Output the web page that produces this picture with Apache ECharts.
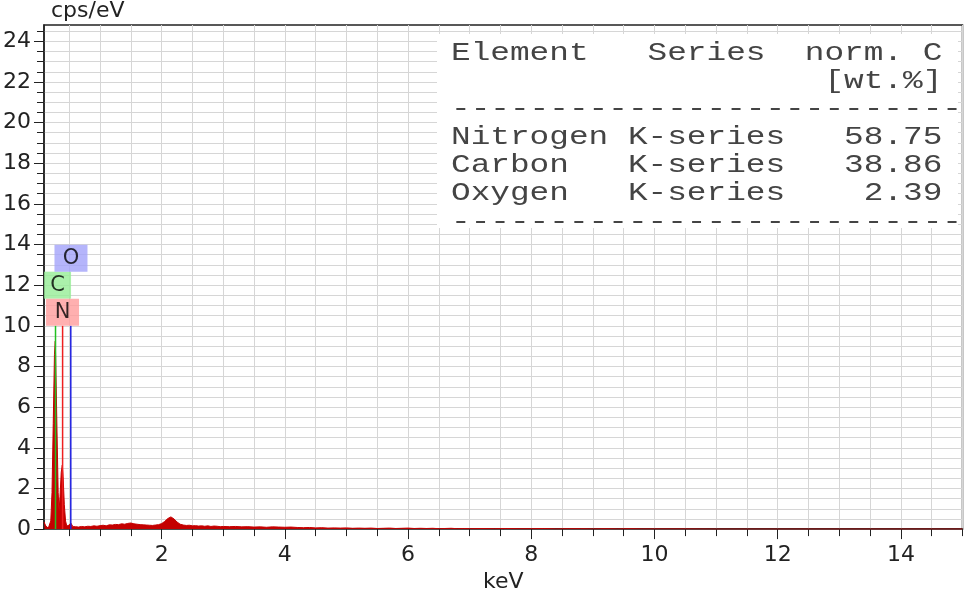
<!DOCTYPE html>
<html>
<head>
<meta charset="utf-8">
<title>EDS spectrum</title>
<script src="https://cdn.jsdelivr.net/npm/echarts@6/dist/echarts.min.js"></script>
<style>
  html, body { margin: 0; padding: 0; background: #fff; }
  #chart { width: 968px; height: 598px; }
</style>
</head>
<body>
<div id="chart"></div>
<script>
// spectrum: energy (keV) and intensity (cps/eV)
const energy = [
  0.09, 0.10, 0.12, 0.14, 0.16, 0.18, 0.20, 0.22, 0.24, 0.26, 0.273, 0.28, 0.30, 0.32, 0.335,
  0.35, 0.37, 0.387, 0.40, 0.42, 0.44, 0.46, 0.48, 0.50, 0.525, 0.54, 0.56, 0.58,
  0.60, 0.65, 0.70, 0.75, 0.80, 0.85, 0.90, 0.95, 1.00, 1.05, 1.10, 1.15, 1.20, 1.25,
  1.30, 1.35, 1.40, 1.45, 1.50, 1.55, 1.60, 1.65, 1.70, 1.75, 1.80, 1.85, 1.90, 1.95,
  2.00, 2.05, 2.10, 2.15, 2.20, 2.25, 2.30, 2.35, 2.40, 2.45, 2.50, 2.55, 2.60, 2.65,
  2.70, 2.75, 2.80, 2.85, 2.90, 2.95, 3.00, 3.1, 3.2, 3.3, 3.4, 3.5, 3.6, 3.7, 3.8, 3.9,
  4.0, 4.1, 4.2, 4.3, 4.4, 4.5, 4.6, 4.7, 4.8, 4.9, 5.0, 5.1, 5.2, 5.3, 5.4, 5.5, 5.6,
  5.7, 5.8, 5.9, 6.0, 6.1, 6.2, 6.3, 6.4, 6.5, 6.6, 6.7, 6.8, 6.9, 7.0, 7.2, 7.4, 7.6,
  7.8, 8.0, 8.2, 8.4, 8.6, 8.8, 9.0, 9.2, 9.4, 9.6, 9.8, 10.0, 10.5, 11.0, 12.0, 13.0,
  14.0, 15.0
];
const counts = [
  0.35, 0.30, 0.15, 0.08, 0.05, 0.10, 0.40, 1.8, 5.2, 8.6, 9.25, 8.4, 5.0, 1.8, 0.9,
  1.6, 2.8, 3.15, 2.6, 1.2, 0.40, 0.15, 0.12, 0.20, 0.30, 0.22, 0.12, 0.10,
  0.12, 0.10, 0.13, 0.11, 0.14, 0.13, 0.16, 0.14, 0.17, 0.19, 0.16, 0.21, 0.20, 0.23,
  0.22, 0.26, 0.24, 0.28, 0.30, 0.26, 0.24, 0.22, 0.21, 0.20, 0.19, 0.18, 0.20, 0.22,
  0.27, 0.38, 0.52, 0.60, 0.50, 0.35, 0.24, 0.20, 0.18, 0.19, 0.16, 0.17, 0.15, 0.16,
  0.14, 0.16, 0.13, 0.15, 0.14, 0.12, 0.13, 0.12, 0.13, 0.11, 0.12, 0.10, 0.11, 0.09, 0.11, 0.10,
  0.09, 0.10, 0.08, 0.07, 0.08, 0.06, 0.07, 0.05, 0.06, 0.05, 0.06, 0.04, 0.05, 0.04, 0.05, 0.03, 0.04,
  0.05, 0.03, 0.04, 0.05, 0.03, 0.04, 0.03, 0.04, 0.02, 0.03, 0.04, 0.02, 0.03, 0.02, 0.03, 0.02, 0.03,
  0.02, 0.02, 0.03, 0.01, 0.02, 0.02, 0.01, 0.02, 0.01, 0.02, 0.01, 0.01, 0.01, 0.0, 0.0, 0.0,
  0.0, 0.0
];

// element markers (K lines)
const elementNames = ['C', 'N', 'O'];
const elementKeV = [0.277, 0.392, 0.525];
const markerTop = 10;
const tagKeV = [0.31, 0.391, 0.528];
const tagCps = [12.0, 10.67, 13.33];

// quantification table
const tableElements = ['Nitrogen', 'Carbon', 'Oxygen'];
const tableSeries = ['K-series', 'K-series', 'K-series'];
const tableWt = [58.75, 38.86, 2.39];

// axes
const xLabels = [2, 4, 6, 8, 10, 12, 14];
const yLabels = [0, 2, 4, 6, 8, 10, 12, 14, 16, 18, 20, 22, 24];

const lineColors = { C: '#22c022', N: '#ee2020', O: '#2020e0' };
const tagColors = { C: '#96ee96', N: '#ff9c9c', O: '#a2a2fa' };
const tagSizes = { C: [27, 27], N: [33, 27], O: [33, 27] };

const xTicks = [];
for (let v = 0.5; v <= 15; v += 0.5) xTicks.push(v);
const yTicks = [];
for (let v = 0; v <= 24.5; v += 0.5) yTicks.push(v);

const dash = '-'.repeat(26);
const tableText = ['Element   Series  norm. C', ' '.repeat(19) + '[wt.%]', dash]
  .concat(tableElements.map(function (el, i) {
    return el.padEnd(9) + tableSeries[i] + tableWt[i].toFixed(2).padStart(8);
  }))
  .concat([dash])
  .join('\n');

const axisFont = { fontFamily: 'DejaVu Sans', fontSize: 22, color: '#222' };

let myChart = echarts.init(document.getElementById('chart'));

let option = {
  animation: false,
  grid: {
    left: 43, right: 5.5, top: 25, bottom: 67,
    show: true, borderColor: '#222', borderWidth: 1.5
  },
  xAxis: [
    {
      type: 'value', min: 0.09, max: 15,
      name: 'keV', nameLocation: 'middle', nameGap: 40,
      nameTextStyle: axisFont,
      axisLine: { lineStyle: { color: '#222', width: 1.5 } },
      axisTick: { customValues: xTicks, length: 7, lineStyle: { color: '#222' } },
      axisLabel: Object.assign({ customValues: xLabels, margin: 15 }, axisFont),
      splitLine: { show: true, lineStyle: { color: '#d6d6d6' } }
    },
    {
      type: 'value', min: 0.09, max: 15, position: 'bottom',
      axisLine: { show: false },
      axisTick: { customValues: xLabels, length: 10, lineStyle: { color: '#222' } },
      axisLabel: { show: false },
      splitLine: { show: false }
    }
  ],
  yAxis: [
    {
      type: 'value', min: 0, max: 24.8,
      name: 'cps/eV', nameLocation: 'end', nameGap: 3,
      nameTextStyle: Object.assign({ align: 'left', padding: [0, 0, 0, 7] }, axisFont),
      axisLine: { lineStyle: { color: '#222', width: 1.5 } },
      axisTick: { customValues: yTicks, length: 7, lineStyle: { color: '#222' } },
      axisLabel: Object.assign({ customValues: yLabels, margin: 13 }, axisFont),
      splitLine: { show: true, lineStyle: { color: '#d6d6d6' } }
    },
    {
      type: 'value', min: 0, max: 24.8, position: 'left',
      axisLine: { show: false },
      axisTick: { customValues: yLabels, length: 10, lineStyle: { color: '#222' } },
      axisLabel: { show: false },
      splitLine: { show: false }
    }
  ],
  graphic: [
    {
      type: 'rect', z: 50,
      shape: { x: 437, y: 34, width: 521, height: 194 },
      style: { fill: '#fff' }
    },
    {
      // wide typewriter table, stretched to the original column pitch
      type: 'text', z: 51, x: 451, y: 39.3, scaleX: 1.31,
      style: {
        text: tableText,
        font: '25px "Liberation Mono"',
        lineHeight: 28.1,
        fill: '#444',
        verticalAlign: 'top'
      }
    }
  ],
  series: [
    {
      name: 'spectrum', type: 'line', silent: true, z: 2,
      showSymbol: false,
      data: energy.map(function (e, i) { return [e, counts[i]]; }),
      lineStyle: { color: '#c40000', width: 1 },
      itemStyle: { color: '#c40000' },
      areaStyle: { color: '#c40000', opacity: 1 }
    }
  ].concat(elementNames.map(function (el, i) {
    return {
      name: el + ' line', type: 'line', silent: true, z: 3,
      showSymbol: false,
      data: [[elementKeV[i], 0], [elementKeV[i], markerTop]],
      lineStyle: { color: lineColors[el], width: 1.5 }
    };
  })).concat([
    {
      name: 'tags', type: 'scatter', silent: true, z: 4,
      symbol: 'rect',
      data: elementNames.map(function (el, i) {
        return {
          name: el, value: [tagKeV[i], tagCps[i]],
          symbolSize: tagSizes[el],
          itemStyle: { color: tagColors[el] }
        };
      }),
      label: {
        show: true, position: 'inside', formatter: '{b}',
        fontFamily: 'DejaVu Sans', fontSize: 21, color: '#000'
      }
    }
  ])
};

myChart.setOption(option);
window.addEventListener('resize', function () { myChart.resize(); });
</script>
</body>
</html>
